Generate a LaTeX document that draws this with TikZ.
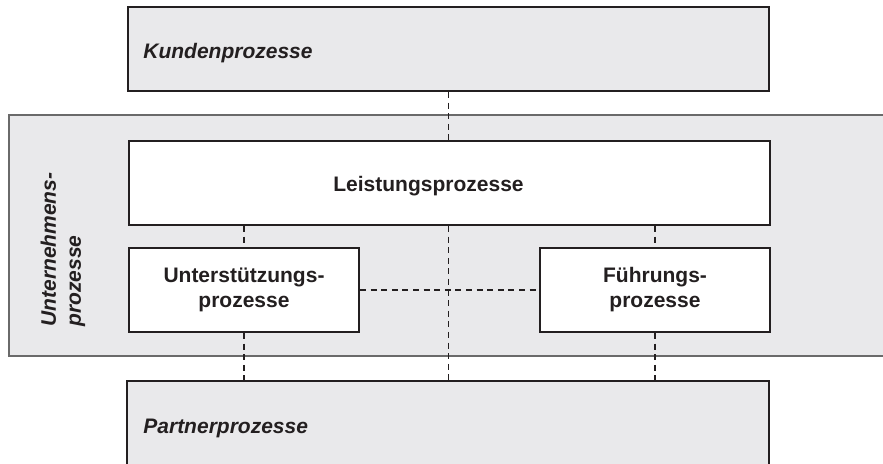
\documentclass[tikz,border=0pt]{standalone}
\usepackage{fontspec}
\setmainfont{Liberation Sans}
\definecolor{panel}{HTML}{E9E9EB}
\definecolor{ink}{HTML}{231F20}
\definecolor{frame}{HTML}{6A6A6A}
\begin{document}
\begin{tikzpicture}[x=0.5pt,y=-0.5pt,
  every node/.style={font=\fontsize{10.5pt}{12.5pt}\selectfont\bfseries, text=ink},
  box/.style={draw=ink,line width=1pt,inner sep=0pt,anchor=north west},
  grey/.style={box,fill=panel},
  white/.style={box,fill=white,align=center},
  link/.style={draw=ink,line width=0.75pt,dash pattern=on 3pt off 2.3pt},
  lbl/.style={inner sep=0pt}
]
\useasboundingbox (0,0) rectangle (883,464);
\clip (0,0) rectangle (883,464);

% enclosing company frame
\node[box,draw=frame,line width=0.8pt,fill=panel,minimum width=441pt,minimum height=120.5pt] (firm) at (8,114) {};

% outer process layers
\node[grey,minimum width=320.5pt,minimum height=42pt] (kunden) at (127,6) {};
\node[grey,minimum width=321pt,minimum height=60pt] (partner) at (126,380) {};

% inner processes
\node[white,minimum width=320.5pt,minimum height=42pt] (leist) at (128,140) {};
\node[white,minimum width=115pt,minimum height=42pt] (unt) at (128,247) {Unterstützungs-\\prozesse};
\node[white,minimum width=115pt,minimum height=42pt] (fue) at (539,247) {Führungs-\\prozesse};

% labels
\node[lbl,anchor=base west] (kundenlbl) at (143,59) {\itshape Kundenprozesse};
\node[lbl,anchor=base west] (partnerlbl) at (143,433) {\itshape Partnerprozesse};
\node[lbl,anchor=base] (leistlbl) at (428.5,192) {Leistungsprozesse};
\node[lbl,rotate=90,anchor=west,align=left] (firmlbl) at (63,327) {\itshape Unternehmens-\\\itshape prozesse};

% dashed relations
\draw[link] (kunden.south) -- (kunden.south |- leist.north);
\draw[link] (leist.south -| unt.north) -- (unt.north);
\draw[link] (leist.south -| fue.north) -- (fue.north);
\draw[link] (leist.south -| kunden.south) -- (kunden.south |- partner.north);
\draw[link] (unt.east) -- (fue.west);
\draw[link] (unt.south) -- (unt.south |- partner.north);
\draw[link] (fue.south) -- (fue.south |- partner.north);
\end{tikzpicture}
\end{document}
